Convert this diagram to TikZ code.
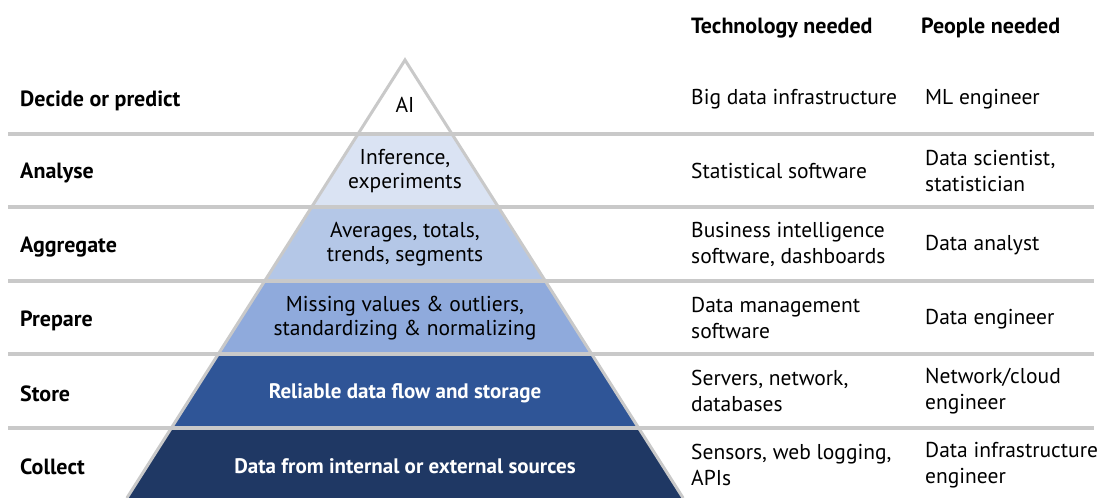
\documentclass[tikz,border=0pt]{standalone}
\usepackage{fontspec}
\setmainfont{PT Sans}

\definecolor{edge}{HTML}{C9C9C9}
\definecolor{lvlA}{HTML}{DAE3F3}
\definecolor{lvlB}{HTML}{B4C7E7}
\definecolor{lvlC}{HTML}{8FAADC}
\definecolor{lvlD}{HTML}{2F5597}
\definecolor{lvlE}{HTML}{1F3864}

\begin{document}
\begin{tikzpicture}[x=1pt,y=-1pt,
	head/.style={anchor=west,inner sep=0pt,font=\bfseries\fontsize{22}{26}\selectfont},
	lbl/.style={anchor=west,inner sep=0pt,font=\bfseries\fontsize{22}{26}\selectfont},
	txt/.style={anchor=west,inner sep=0pt,align=left,font=\fontsize{21.5}{26}\selectfont},
	lvl/.style={align=center,inner sep=0pt,font=\fontsize{21.5}{23.5}\selectfont},
	lvldark/.style={lvl,text=white,font=\bfseries\fontsize{21}{23.5}\selectfont}]
	\useasboundingbox (0,0) rectangle (1101,498);
	\foreach \t/\b/\c in {134/207/lvlA, 207/281/lvlB, 281/354/lvlC, 354/428/lvlD, 428/498/lvlE}
	\fill[\c] ({405-0.635*(\t-60)},\t) -- ({405+0.635*(\t-60)},\t) -- ({405+0.635*(\b-60)},\b) -- ({405-0.635*(\b-60)},\b) -- cycle;
	\draw[edge, line width=3pt, line join=miter] (126.9,498) -- (405,60) -- (683.1,498);
	\foreach \y in {134,207,281,354,428}
	\draw[edge, line width=3.5pt] (8,\y) -- (1094,\y);

	\node [head] (tech) at (691,28) {Technology needed};
	\node [head] (people) at (921,28) {People needed};

	\foreach \n/\y/\t in {l1/101/Decide or predict, l2/173/Analyse, l3/247/Aggregate,
		l4/321/Prepare, l5/394/Store, l6/467/Collect}
	\node [lbl] (\n) at (20,\y) {\t};

	\node [lvl] (p1) at (405,105) {AI};
	\node [lvl] (p2) at (405,171) {Inference,\\experiments};
	\node [lvl] (p3) at (405,244) {Averages, totals,\\trends, segments};
	\node [lvl] (p4) at (405,318) {Missing values \& outliers,\\standardizing \& normalizing};
	\node [lvldark] (p5) at (405,393) {Reliable data flow and storage};
	\node [lvldark] (p6) at (405,466) {Data from internal or external sources};

	\foreach \n/\y/\t in {t1/99/{Big data infrastructure}, t2/171/{Statistical software},
		t3/244/{Business intelligence\\software, dashboards}, t4/318/{Data management\\software},
		t5/391/{Servers, network,\\databases}, t6/465/{Sensors, web logging,\\APIs}}
	\node [txt] (\n) at (691,\y) {\t};

	\foreach \n/\y/\t in {h1/99/{ML engineer}, h2/171/{Data scientist,\\statistician},
		h3/245/{Data analyst}, h4/319/{Data engineer},
		h5/391/{Network/cloud\\engineer}, h6/465/{Data infrastructure\\engineer}}
	\node [txt] (\n) at (925,\y) {\t};
\end{tikzpicture}
\end{document}
